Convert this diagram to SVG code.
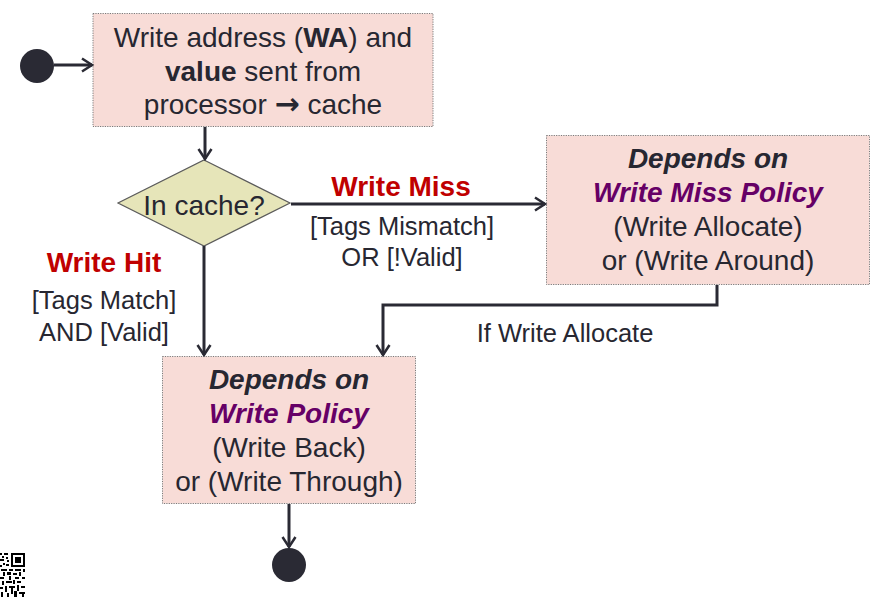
<svg xmlns="http://www.w3.org/2000/svg" width="891" height="597" viewBox="0 0 891 597">
<style>
.box{fill:#f8dcd7;stroke:#7a7a7a;stroke-width:1;stroke-dasharray:1.2 1.2}
.t{font-family:"Liberation Sans",Arial,sans-serif;font-size:28px;fill:#272731;text-anchor:middle}
.s{font-size:25.5px}
.b{font-weight:bold}
.bi{font-weight:bold;font-style:italic}
.red{fill:#c00000}
.pur{fill:#660066}
.ar{font-family:"DejaVu Sans",sans-serif;font-size:30px;font-weight:bold}
.ln{fill:none;stroke:#2a2a34;stroke-width:3}
.dot{fill:#2a2a34}
.qr rect{fill:#000}
</style>
<defs>
<marker id="arr" markerUnits="userSpaceOnUse" markerWidth="16" markerHeight="16" refX="13" refY="8" orient="auto">
<path d="M3,1.5 L13,8 L3,14.5" fill="none" stroke="#2a2a34" stroke-width="2.5"/>
</marker>
</defs>
<g id="start"><circle class="dot" cx="37" cy="66" r="17"/></g>
<g id="n1">
<rect class="box" x="93" y="13.5" width="340" height="113"/>
<text class="t" x="263" y="47">Write address (<tspan class="b">WA</tspan>) and</text>
<text class="t" x="263" y="81"><tspan class="b">value</tspan> sent from</text>
<text class="t" x="263" y="114">processor <tspan class="ar">→</tspan> cache</text>
</g>
<g id="decision">
<polygon points="204,160 290,203 204,246 118,203" fill="#e6e5b9" stroke="#5a5a5a" stroke-width="1.2"/>
<text class="t" x="204" y="215">In cache?</text>
</g>
<g id="n2">
<rect class="box" x="546.5" y="135.5" width="323" height="149"/>
<text class="t bi" x="708" y="168">Depends on</text>
<text class="t bi pur" x="708" y="202">Write Miss Policy</text>
<text class="t" x="708" y="236">(Write Allocate)</text>
<text class="t" x="708" y="270">or (Write Around)</text>
</g>
<g id="n3">
<rect class="box" x="162.5" y="356.5" width="253" height="147"/>
<text class="t bi" x="289" y="389">Depends on</text>
<text class="t bi pur" x="289" y="423">Write Policy</text>
<text class="t" x="289" y="457">(Write Back)</text>
<text class="t" x="289" y="491">or (Write Through)</text>
</g>
<g id="end"><circle class="dot" cx="289" cy="565" r="17"/></g>
<g id="connectors">
<line class="ln" x1="54" y1="65" x2="92" y2="65" marker-end="url(#arr)"/>
<line class="ln" x1="205" y1="127" x2="205" y2="159" marker-end="url(#arr)"/>
<line class="ln" x1="291" y1="204" x2="545" y2="204" marker-end="url(#arr)"/>
<line class="ln" x1="204" y1="246" x2="204" y2="355" marker-end="url(#arr)"/>
<polyline class="ln" points="717,285 717,305 383,305 383,355" marker-end="url(#arr)"/>
<line class="ln" x1="289" y1="504" x2="289" y2="547" marker-end="url(#arr)"/>
</g>
<g id="labels">
<text class="t b red" x="401" y="196">Write Miss</text>
<text class="t s" x="402" y="235">[Tags Mismatch]</text>
<text class="t s" x="402" y="266">OR [!Valid]</text>
<text class="t b red" x="104" y="272">Write Hit</text>
<text class="t s" x="104" y="309">[Tags Match]</text>
<text class="t s" x="104" y="341">AND [Valid]</text>
<text class="t s" x="565" y="342">If Write Allocate</text>
</g>
<g class="qr" id="qr">
<rect x="11" y="553" width="14" height="2"/><rect x="11" y="565" width="14" height="2"/>
<rect x="11" y="553" width="2" height="14"/><rect x="23" y="553" width="2" height="14"/>
<rect x="15" y="557" width="6" height="6"/>
<rect x="0" y="553" width="2" height="2"/><rect x="4" y="553" width="4" height="2"/>
<rect x="2" y="556" width="2" height="2"/><rect x="6" y="557" width="2" height="2"/>
<rect x="0" y="559" width="4" height="2"/><rect x="7" y="560" width="2" height="2"/>
<rect x="3" y="563" width="2" height="2"/><rect x="0" y="565" width="2" height="2"/><rect x="6" y="564" width="3" height="2"/>
<rect x="1" y="569" width="6" height="2"/><rect x="9" y="569" width="4" height="2"/><rect x="15" y="569" width="6" height="2"/><rect x="23" y="569" width="2" height="3"/>
<rect x="3" y="572" width="2" height="4"/><rect x="7" y="572" width="4" height="3"/><rect x="13" y="573" width="4" height="2"/><rect x="19" y="572" width="2" height="4"/>
<rect x="0" y="577" width="4" height="2"/><rect x="9" y="576" width="2" height="4"/><rect x="15" y="577" width="4" height="2"/><rect x="22" y="577" width="3" height="2"/>
<rect x="2" y="581" width="2" height="4"/><rect x="6" y="581" width="6" height="2"/><rect x="13" y="580" width="2" height="4"/><rect x="17" y="581" width="4" height="2"/>
<rect x="0" y="587" width="3" height="2"/><rect x="5" y="586" width="2" height="6"/><rect x="9" y="586" width="6" height="2"/><rect x="11" y="588" width="2" height="6"/><rect x="17" y="585" width="2" height="6"/><rect x="21" y="586" width="4" height="2"/>
<rect x="1" y="592" width="2" height="5"/><rect x="7" y="593" width="2" height="4"/><rect x="14" y="591" width="3" height="6"/><rect x="19" y="592" width="6" height="2"/><rect x="22" y="594" width="2" height="3"/>
</g>
</svg>
